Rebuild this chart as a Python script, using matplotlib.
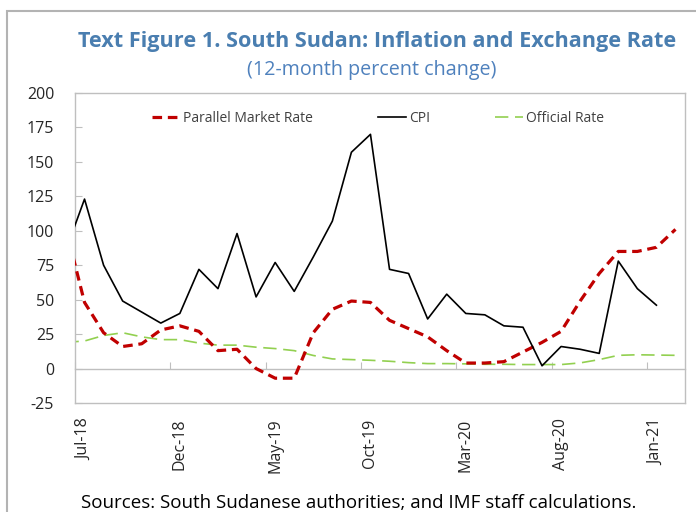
import matplotlib
matplotlib.use("Agg")
import matplotlib.pyplot as plt
from matplotlib.patches import Rectangle

plt.rcParams["font.family"] = ["Open Sans", "DejaVu Sans"]
plt.rcParams["axes.unicode_minus"] = False

# months Jun-18 .. Feb-21 (Jun-18 only partly visible at the left edge)
months = ["Jun-18", "Jul-18", "Aug-18", "Sep-18", "Oct-18", "Nov-18", "Dec-18",
          "Jan-19", "Feb-19", "Mar-19", "Apr-19", "May-19", "Jun-19", "Jul-19",
          "Aug-19", "Sep-19", "Oct-19", "Nov-19", "Dec-19", "Jan-20", "Feb-20",
          "Mar-20", "Apr-20", "May-20", "Jun-20", "Jul-20", "Aug-20", "Sep-20",
          "Oct-20", "Nov-20", "Dec-20", "Jan-21", "Feb-21"]

parallel = [103, 48, 26, 16, 18, 28, 31, 27, 13, 14, 0, -7, -7, 26, 43, 49, 48,
            35, 29, 23, 13, 4, 4, 5, 12, 19, 27, 49, 69, 85, 85, 88, 101]
cpi = [85, 123, 75, 49, 41, 33, 40, 72, 58, 98, 52, 77, 56, 81, 107, 157, 170,
       72, 69, 36, 54, 40, 39, 31, 30, 2, 16, 14, 11, 78, 58, 46, None]
official = [19, 20, 24, 26, 23, 21, 21, 18.5, 17, 17, 15.5, 14.5, 13, 9.5, 7,
            6.5, 6, 5.3, 4.3, 3.6, 3.6, 3.4, 3.1, 3.1, 2.9, 2.9, 2.9, 4.1, 6.5,
            9.6, 10, 9.8, 9.6]

yticks = [-25, 0, 25, 50, 75, 100, 125, 150, 175, 200]
label_months = ["Jul-18", "Dec-18", "May-19", "Oct-19", "Mar-20", "Aug-20", "Jan-21"]

x = list(range(-1, len(months) - 1))
cpi_x = [i for i, v in zip(x, cpi) if v is not None]
cpi_y = [v for v in cpi if v is not None]

fig = plt.figure(figsize=(6.96, 5.12), dpi=100)
ax = fig.add_axes([75 / 696, 1 - 403 / 512, 610 / 696, 310 / 512])

ax.plot(x, official, color="#92d050", lw=1.2, dashes=(8, 4), label="Official Rate", zorder=2)
ax.plot(x, parallel, color="#c00000", lw=2.3, dashes=(3, 1.8), label="Parallel Market Rate", zorder=3)
ax.plot(cpi_x, cpi_y, color="black", lw=1.2, label="CPI", zorder=4)

ax.set_xlim(-0.5, 31.5)
ax.set_ylim(-25, 200)
ax.set_yticks(yticks)
label_pos = [months.index(m) - 1 for m in label_months]
ax.set_xticks(label_pos)
ax.set_xticklabels(label_months, rotation=90, va="top")

grey = "#bfbfbf"
for s in ax.spines.values():
    s.set_color(grey)
    s.set_linewidth(1.0)
ax.tick_params(axis="y", direction="in", length=5, color=grey, pad=15,
               labelsize=11.5, labelcolor="#262626")
ax.tick_params(axis="x", length=0, pad=11, labelsize=11.5, labelcolor="#262626")

# category axis line at zero with tick marks between categories
sec = ax.secondary_xaxis(25 / 225)
sec.set_xticks([p - 0.5 for p in label_pos])
sec.set_xticklabels([])
sec.tick_params(direction="in", length=5, color=grey)
sec.spines["bottom"].set_color(grey)
sec.spines["bottom"].set_linewidth(1.0)

handles, labels = ax.get_legend_handles_labels()
order = [1, 2, 0]
ax.legend([handles[i] for i in order], [labels[i] for i in order],
          loc="center", bbox_to_anchor=((378 - 75) / 610, 1 - 25.5 / 310),
          ncol=3, frameon=False, fontsize=10, handlelength=2.0,
          handletextpad=0.2, columnspacing=4.7, labelcolor="#404040")

fig.text(377 / 696, 1 - 42 / 512, "Text Figure 1. South Sudan: Inflation and Exchange Rate",
         ha="center", va="center", fontsize=15.6, fontweight="bold", color="#4a7eb0")
fig.text(372 / 696, 1 - 70 / 512, "(12-month percent change)",
         ha="center", va="center", fontsize=14.2, color="#4f81bd")
fig.text(81 / 696, 1 - 503 / 512, "Sources: South Sudanese authorities; and IMF staff calculations.",
         ha="left", va="center", fontsize=13.5, color="black")

fig.add_artist(Rectangle((7 / 696, -0.1), 1.2, 1.1 - 11 / 512, transform=fig.transFigure,
                         fill=False, edgecolor="#b3b3b3", lw=1.5, clip_on=False))

fig.savefig("out.png", dpi=100)
